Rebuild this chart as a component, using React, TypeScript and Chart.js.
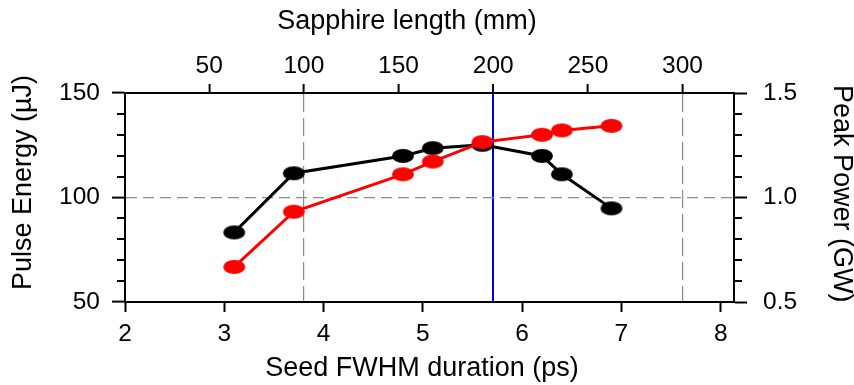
import React, { useEffect, useRef } from 'react';
import { Chart, registerables } from 'chart.js';

Chart.register(...registerables);

// ---- data ----
const durationPs = [3.1, 3.7, 4.8, 5.1, 5.6, 6.2, 6.4, 6.9];
const pulseEnergyUJ = [83.3, 111.6, 119.9, 123.6, 125.2, 119.9, 111.1, 94.8];
const peakPowerGW = [0.668, 0.932, 1.111, 1.172, 1.265, 1.3, 1.321, 1.343];

// ---- axes ----
const bottomTicks = [2, 3, 4, 5, 6, 7, 8];
const topTicks = [50, 100, 150, 200, 250, 300];
const leftTicks = [50, 100, 150];
const leftMinorTicks = [60, 70, 80, 90, 110, 120, 130, 140];
const rightTicks = [0.5, 1.0, 1.5];
const rightMinorTicks = [0.6, 0.7, 0.8, 0.9, 1.1, 1.2, 1.3, 1.4];
const dashedSapphireLines = [100, 300];
const highlightSapphire = 200;
const dashedEnergyLine = 100;

const NB = '\u00a0';
const FONT = "'Liberation Sans', Arial, sans-serif";
const tickFont = { family: FONT, size: 24.5, lineHeight: 1.2 };
const titleFont = { family: FONT, size: 27, lineHeight: 0.9 };

function makeEllipse(color: string) {
  const c = document.createElement('canvas');
  c.width = 24;
  c.height = 16;
  const g = c.getContext('2d')!;
  g.fillStyle = color;
  g.beginPath();
  g.ellipse(12, 8, 11, 7, 0, 0, Math.PI * 2);
  g.fill();
  return c;
}

const minorTicksPlugin = {
  id: 'minorTicks',
  afterDraw(chart: any) {
    const { ctx, chartArea, scales } = chart;
    ctx.save();
    ctx.strokeStyle = '#000';
    ctx.lineWidth = 2;
    leftMinorTicks.forEach((v) => {
      const y = Math.round(scales.y.getPixelForValue(v));
      ctx.beginPath();
      ctx.moveTo(chartArea.left - 8, y);
      ctx.lineTo(chartArea.left, y);
      ctx.stroke();
    });
    rightMinorTicks.forEach((v) => {
      const y = Math.round(scales.y2.getPixelForValue(v));
      ctx.beginPath();
      ctx.moveTo(chartArea.right, y);
      ctx.lineTo(chartArea.right + 8, y);
      ctx.stroke();
    });
    ctx.restore();
  },
};

export default function App() {
  const ref = useRef<HTMLCanvasElement>(null);

  useEffect(() => {
    if (!ref.current) return;
    const blackDot = makeEllipse('#000000');
    const redDot = makeEllipse('#ff0000');

    const chart = new Chart(ref.current, {
      type: 'line',
      data: {
        datasets: [
          {
            label: 'Peak Power (GW)',
            data: durationPs.map((x, i) => ({ x, y: peakPowerGW[i] })),
            xAxisID: 'x',
            yAxisID: 'y2',
            borderColor: '#ff0000',
            backgroundColor: '#ff0000',
            borderWidth: 3,
            pointStyle: redDot as any,
            pointRadius: 10,
            tension: 0,
          },
          {
            label: 'Pulse Energy (µJ)',
            data: durationPs.map((x, i) => ({ x, y: pulseEnergyUJ[i] })),
            xAxisID: 'x',
            yAxisID: 'y',
            borderColor: '#000000',
            backgroundColor: '#000000',
            borderWidth: 3,
            pointStyle: blackDot as any,
            pointRadius: 10,
            tension: 0,
          },
        ],
      },
      options: {
        animation: false,
        responsive: false,
        layout: { padding: 0 },
        plugins: { legend: { display: false }, tooltip: { enabled: false } },
        scales: {
          x: {
            type: 'linear',
            position: 'bottom',
            min: 2,
            max: 8.134,
            afterBuildTicks: (s: any) => {
              s.ticks = bottomTicks.map((v) => ({ value: v }));
            },
            afterFit: (s: any) => {
              s.height = 83;
            },
            grid: { color: 'transparent', tickColor: '#000', tickLength: 10, tickWidth: 2 },
            border: { color: '#000', width: 2 },
            ticks: {
              font: tickFont,
              color: '#000',
              padding: 8,
              maxRotation: 0,
              autoSkip: false,
              callback: (v: any) => String(v),
            },
            title: {
              display: true,
              text: 'Seed FWHM duration (ps)' + NB + NB,
              font: titleFont,
              color: '#000',
              padding: { top: 0, bottom: 4 },
            },
          },
          x2: {
            type: 'linear',
            position: 'top',
            min: 5.5,
            max: 327.2,
            afterBuildTicks: (s: any) => {
              s.ticks = topTicks.map((v) => ({ value: v }));
            },
            afterFit: (s: any) => {
              s.height = 93;
            },
            grid: {
              color: (c: any) => {
                const v = c.tick ? c.tick.value : null;
                if (v === highlightSapphire) return '#0000dd';
                if (dashedSapphireLines.includes(v)) return '#8c8c8c';
                return 'transparent';
              },
              lineWidth: (c: any) => (c.tick && c.tick.value === highlightSapphire ? 2 : 1.2),
              tickColor: '#000',
              tickLength: 9,
              tickWidth: 2,
            },
            border: {
              color: '#000',
              width: 2,
              dash: (c: any) => (c.tick && c.tick.value === highlightSapphire ? [] : [18, 6]),
            },
            ticks: {
              font: tickFont,
              color: '#000',
              padding: 3,
              maxRotation: 0,
              autoSkip: false,
              callback: (v: any) => String(v),
            },
            title: {
              display: true,
              text: 'Sapphire length (mm)' + NB.repeat(6),
              font: titleFont,
              color: '#000',
              padding: { top: 9.5, bottom: 0 },
            },
          },
          y: {
            type: 'linear',
            position: 'left',
            min: 50,
            max: 150,
            afterBuildTicks: (s: any) => {
              s.ticks = leftTicks.map((v) => ({ value: v }));
            },
            afterFit: (s: any) => {
              s.width = 125;
            },
            grid: {
              color: (c: any) => (c.tick && c.tick.value === dashedEnergyLine ? '#8c8c8c' : 'transparent'),
              lineWidth: 1.2,
              tickColor: '#000',
              tickLength: 13,
              tickWidth: 2,
            },
            border: { color: '#000', width: 2, dash: [11, 6] },
            ticks: {
              font: tickFont,
              color: '#000',
              padding: 12,
              autoSkip: false,
              callback: (v: any) => String(v),
            },
            title: {
              display: true,
              text: NB.repeat(4) + 'Pulse Energy (µJ)',
              font: titleFont,
              color: '#000',
              padding: { top: 11.5, bottom: 0 },
            },
          },
          y2: {
            type: 'linear',
            position: 'right',
            min: 0.5,
            max: 1.5,
            afterBuildTicks: (s: any) => {
              s.ticks = rightTicks.map((v) => ({ value: v }));
            },
            afterFit: (s: any) => {
              s.width = 120;
            },
            grid: { color: 'transparent', tickColor: '#000', tickLength: 13, tickWidth: 2 },
            border: { color: '#000', width: 2 },
            ticks: {
              font: tickFont,
              color: '#000',
              padding: 16,
              autoSkip: false,
              callback: (v: any) => Number(v).toFixed(1),
            },
            title: {
              display: true,
              text: 'Peak Power (GW)' + NB,
              font: titleFont,
              color: '#000',
              padding: { top: 0, bottom: 0 },
            },
          },
        },
      },
      plugins: [minorTicksPlugin],
    } as any);

    return () => chart.destroy();
  }, []);

  return (
    <canvas
      ref={ref}
      width={854}
      height={385}
      style={{ position: 'absolute', left: 0, top: 0, width: 854, height: 385, background: '#fff' }}
    />
  );
}
